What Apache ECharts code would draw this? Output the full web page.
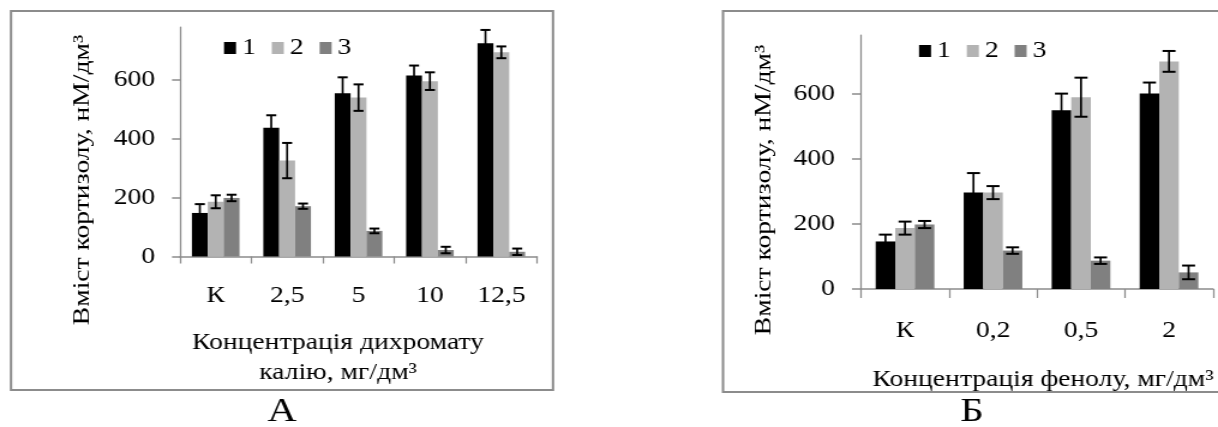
<!DOCTYPE html>
<html>
<head>
<meta charset="utf-8">
<script src="https://cdn.jsdelivr.net/npm/echarts@6/dist/echarts.min.js"></script>
<style>
html,body{margin:0;padding:0;background:#fff;overflow:hidden}
#wrap{width:1218px;height:427px;overflow:hidden;background:#fff}
#chart{height:427px;transform-origin:0 0}
</style>
</head>
<body>
<div id="wrap"><div id="chart"></div></div>
<script>
// Categories (concentrations)
const catsA = ['К', '2,5', '5', '10', '12,5'];
const catsB = ['К', '0,2', '0,5', '2'];
const groupNames = ['1', '2', '3'];
const yTicks = [0, 200, 400, 600];

// Panel А: potassium dichromate — cortisol content, nM/dm³ (mean and error)
const meanA1 = [148, 438, 555, 615, 725];
const errA1  = [30, 42, 54, 34, 45];
const meanA2 = [186, 326, 540, 596, 694];
const errA2  = [22, 60, 45, 30, 20];
const meanA3 = [199, 171, 87, 22, 16];
const errA3  = [11, 9, 8, 11, 11];

// Panel Б: phenol — cortisol content, nM/dm³ (mean and error)
const meanB1 = [146, 296, 549, 600];
const errB1  = [21, 60, 51, 34];
const meanB2 = [187, 296, 589, 699];
const errB2  = [20, 20, 60, 32];
const meanB3 = [198, 118, 87, 51];
const errB3  = [11, 10, 10, 21];

const COLORS = ['#000000', '#b3b3b3', '#808080'];
const FONT = "'Liberation Serif', 'Times New Roman', serif";
const CAT_GAP = 1 / 3;
const AXIS_COLOR = '#8c8c8c';

// The typeface is drawn wide: the canvas is laid out narrower and stretched horizontally.
const SX = 1.2;
const W = 1218;
const px = x => x / SX;

const el = document.getElementById('chart');
el.style.width = px(W) + 'px';
el.style.transform = 'scaleX(' + SX + ')';

const chart = echarts.init(el, null, {renderer: 'canvas'});

function errorBars(seriesIdx, capHalf) {
  return function (params, api) {
    const ci = api.value(0), v = api.value(1), e = api.value(2);
    const band = api.size([1, 0])[0];
    const bw = band * (1 - CAT_GAP) / 3;
    const cx = api.coord([ci, v])[0] + (seriesIdx - 1) * bw;
    const top = api.coord([ci, v + e])[1];
    const bot = api.coord([ci, Math.max(0, v - e)])[1];
    const st = {stroke: '#000', lineWidth: 2};
    const stV = {stroke: '#000', lineWidth: 2 / SX};
    return {
      type: 'group',
      children: [
        {type: 'line', shape: {x1: cx, y1: top, x2: cx, y2: bot}, style: stV},
        {type: 'line', shape: {x1: cx - capHalf, y1: top, x2: cx + capHalf, y2: top}, style: st},
        {type: 'line', shape: {x1: cx - capHalf, y1: bot, x2: cx + capHalf, y2: bot}, style: st}
      ]
    };
  };
}

function barSeries(name, idx, values, axis) {
  return {
    name: name, type: 'bar', xAxisIndex: axis, yAxisIndex: axis,
    data: values, barGap: '0%', barCategoryGap: (CAT_GAP * 100) + '%',
    itemStyle: {color: COLORS[idx]}, animation: false, silent: true
  };
}

function errSeries(idx, values, errs, axis, capHalf) {
  return {
    name: 'err' + axis + idx, type: 'custom', xAxisIndex: axis, yAxisIndex: axis,
    data: values.map((v, i) => [i, v, errs[i]]),
    renderItem: errorBars(idx, px(capHalf)), z: 5, animation: false, silent: true
  };
}

function xAxisCfg(cats, grid, tickLen, margin) {
  return {
    type: 'category', gridIndex: grid, data: cats,
    axisLine: {lineStyle: {color: AXIS_COLOR, width: 1.5}},
    axisTick: {show: true, length: tickLen, lineStyle: {color: AXIS_COLOR, width: 1.5 / SX}},
    axisLabel: {color: '#000', fontFamily: FONT, fontSize: 23, margin: margin}
  };
}

function yAxisCfg(grid, tickLen, margin) {
  return {
    type: 'value', gridIndex: grid, min: 0, max: 780, interval: 200,
    axisLine: {show: true, lineStyle: {color: AXIS_COLOR, width: 1.5 / SX}},
    axisTick: {show: true, length: px(tickLen), lineStyle: {color: AXIS_COLOR, width: 1.5}},
    splitLine: {show: false},
    axisLabel: {
      color: '#000', fontFamily: FONT, fontSize: 23, margin: px(margin),
      showMaxLabel: false,
      formatter: v => (yTicks.indexOf(v) >= 0 ? String(v) : '')
    }
  };
}

function legendCfg(left, top) {
  return {
    left: px(left), top: top, padding: 0, itemGap: px(16),
    icon: 'rect', itemWidth: px(12), itemHeight: 12,
    data: groupNames.map((n, i) => ({name: n, itemStyle: {color: COLORS[i]}})),
    textStyle: {color: '#000', fontFamily: FONT, fontSize: 23, lineHeight: 24},
    selectedMode: false
  };
}

function label(text, x, y, size, vertical) {
  const t = {
    type: 'text', x: px(x), y: y, silent: true,
    style: {text: text, fill: '#000', fontFamily: FONT, fontSize: size,
            align: 'center', verticalAlign: 'middle', lineHeight: 30}
  };
  if (vertical) {
    // rotated title: stretched along its length, thickness kept as drawn
    t.rotation = Math.PI / 2;
    t.scaleX = SX;
    t.scaleY = 1 / SX;
  }
  return t;
}

chart.setOption({
  backgroundColor: '#fff',
  animation: false,
  grid: [
    {left: px(180), top: 27, width: px(357), height: 229.5},
    {left: px(861), top: 35, width: px(352), height: 254}
  ],
  legend: [legendCfg(224, 36), legendCfg(919, 39)],
  xAxis: [xAxisCfg(catsA, 0, 7, 28), xAxisCfg(catsB, 1, 9, 30)],
  yAxis: [yAxisCfg(0, 8, 25), yAxisCfg(1, 9, 26)],
  series: [
    barSeries('1', 0, meanA1, 0), barSeries('2', 1, meanA2, 0), barSeries('3', 2, meanA3, 0),
    barSeries('1', 0, meanB1, 1), barSeries('2', 1, meanB2, 1), barSeries('3', 2, meanB3, 1),
    errSeries(0, meanA1, errA1, 0, 5), errSeries(1, meanA2, errA2, 0, 5), errSeries(2, meanA3, errA3, 0, 5),
    errSeries(0, meanB1, errB1, 1, 6.5), errSeries(1, meanB2, errB2, 1, 6.5), errSeries(2, meanB3, errB3, 1, 6.5)
  ],
  graphic: [
    {type: 'rect', silent: true, shape: {x: px(11), y: 11, width: px(542), height: 379},
     style: {fill: 'none', stroke: '#8c8c8c', lineWidth: 2}},
    {type: 'rect', silent: true, shape: {x: px(723), y: 11, width: px(500), height: 381},
     style: {fill: 'none', stroke: '#8c8c8c', lineWidth: 2}},
    label('Вміст кортизолу, нМ/дм³', 83, 180, 23, true),
    label('Вміст кортизолу, нМ/дм³', 764, 190, 23, true),
    label('Концентрація дихромату\nкалію, мг/дм³', 338, 358, 23),
    label('Концентрація фенолу, мг/дм³', 1043, 380, 23),
    label('А', 282, 412, 34),
    label('Б', 972, 412, 34)
  ]
});
</script>
</body>
</html>
